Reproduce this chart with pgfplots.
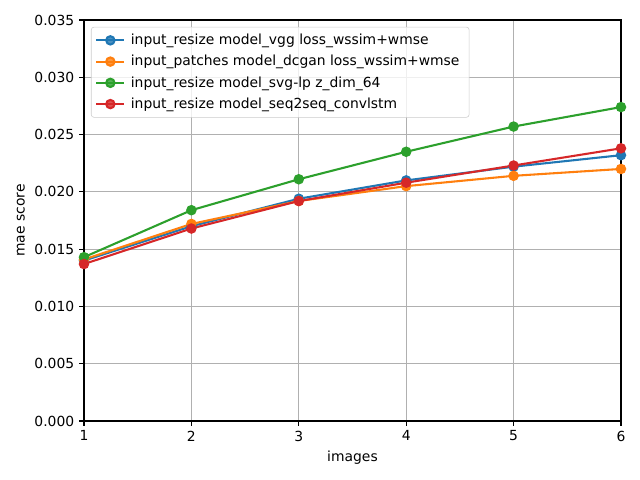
\documentclass[border=0pt]{standalone}
\usepackage{pgfplots}
\pgfplotsset{compat=1.18}
\usepackage{fontspec}
\setmainfont{DejaVu Sans}
\definecolor{c0}{HTML}{1F77B4}
\definecolor{c1}{HTML}{FF7F0E}
\definecolor{c2}{HTML}{2CA02C}
\definecolor{c3}{HTML}{D62728}
\begin{document}
\begin{tikzpicture}
\useasboundingbox (-60.48pt,-42.48pt) rectangle (400.32pt,303.12pt);
\begin{axis}[
  at={(0,0)}, anchor=south west,
  scale only axis, width=386.64pt, height=288.72pt,
  xmin=1, xmax=6, ymin=0, ymax=0.035,
  xtick={1,2,3,4,5,6},
  ytick={0,0.005,0.010,0.015,0.020,0.025,0.030,0.035},
  yticklabel style={/pgf/number format/.cd, fixed, fixed zerofill, precision=3},
  scaled y ticks=false,
  /pgf/number format/assume math mode=true,
  grid=major,
  major grid style={color=black!31, line width=0.8pt},
  axis line style={line width=0.8pt},
  tick style={black, line width=0.8pt},
  tick align=outside, tickpos=left,
  major tick length=3.5pt,
  xlabel={images}, ylabel={mae score},
  ticklabel style={font=\fontsize{10}{12}\selectfont},
  label style={font=\fontsize{10}{12}\selectfont},
  every axis plot/.append style={line width=1.5pt, mark=*, mark size=3pt, mark options={solid}},
  legend cell align=left,
  legend style={draw=black!20, rounded corners=2pt, fill=white, fill opacity=0.8, text opacity=1, font=\fontsize{10}{12}\selectfont, at={(0.013,0.983)}, anchor=north west, inner xsep=3pt, inner ysep=3pt, row sep=2.2pt, nodes={inner xsep=4pt}},
  legend image code/.code={\draw[mark repeat=2,mark phase=2] plot coordinates {(0pt,0pt) (10pt,0pt) (20pt,0pt)};},
  clip=false,
]
\addplot[color=c0] coordinates {(1,0.0140) (2,0.0170) (3,0.0194) (4,0.0210) (5,0.0222) (6,0.0232)};
\addlegendentry{input\_resize model\_vgg loss\_wssim+wmse}
\addplot[color=c1] coordinates {(1,0.0141) (2,0.0172) (3,0.0192) (4,0.0205) (5,0.0214) (6,0.0220)};
\addlegendentry{input\_patches model\_dcgan loss\_wssim+wmse}
\addplot[color=c2] coordinates {(1,0.0143) (2,0.0184) (3,0.0211) (4,0.0235) (5,0.0257) (6,0.0274)};
\addlegendentry{input\_resize model\_svg-lp z\_dim\_64}
\addplot[color=c3] coordinates {(1,0.0137) (2,0.0168) (3,0.0192) (4,0.0208) (5,0.0223) (6,0.0238)};
\addlegendentry{input\_resize model\_seq2seq\_convlstm}
\end{axis}
\end{tikzpicture}
\end{document}
